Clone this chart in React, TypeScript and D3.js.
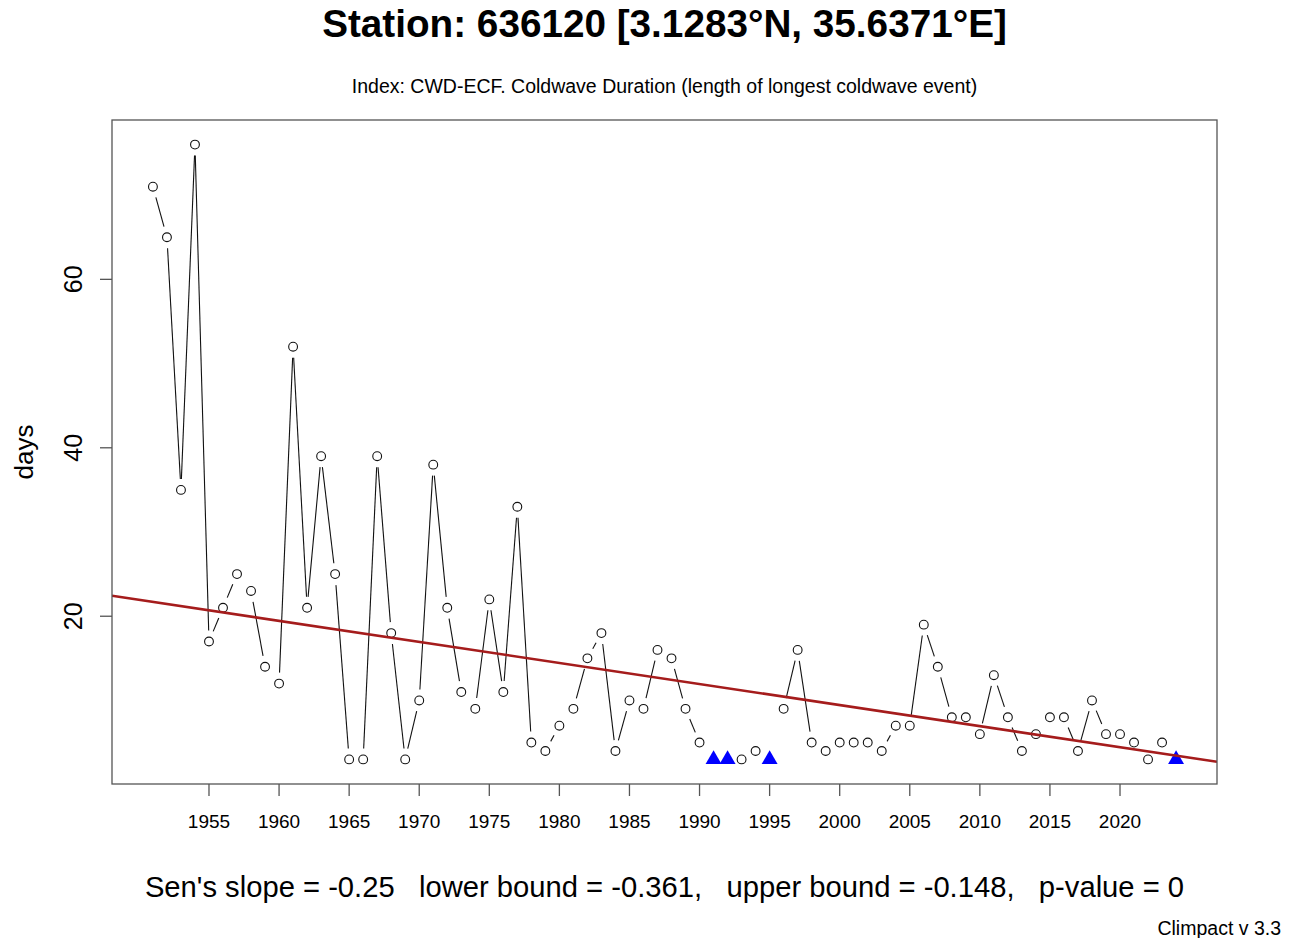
import React from "react";
import * as d3 from "d3";

// CWD-ECF series, station 636120 (null = missing year, drawn as blue triangle)
const years = d3.range(1951, 2025);
const cwd: (number | null)[] = [
  71, 65, 35, 76, 17, 21, 25, 23, 14, 12,
  52, 21, 39, 25, 3, 3, 39, 18, 3, 10,
  38, 21, 11, 9, 22, 11, 33, 5, 4, 7,
  9, 15, 18, 4, 10, 9, 16, 15, 9, 5,
  null, null, 3, 4, null, 9, 16, 5, 4, 5,
  5, 5, 4, 7, 7, 19, 14, 8, 8, 6,
  13, 8, 4, 6, 8, 8, 4, 10, 6, 6,
  5, 3, 5, null,
];
const xTicks = [1955, 1960, 1965, 1970, 1975, 1980, 1985, 1990, 1995, 2000, 2005, 2010, 2015, 2020];
const yTicks = [20, 40, 60];

// Sen's slope trend line
const senSlope = -0.25;
const trendAt1951 = 21.7;

const titleText = "Station: 636120 [3.1283\u00b0N, 35.6371\u00b0E]";
const subtitleText = "Index: CWD-ECF. Coldwave Duration (length of longest coldwave event)";
const statsText = "Sen's slope = -0.25   lower bound = -0.361,   upper bound = -0.148,   p-value = 0";
const versionText = "Climpact v 3.3";

const W = 1304, H = 938;
const plot = { left: 112, right: 1217, top: 120, bottom: 784 };
const font = "'Liberation Sans', Arial, Helvetica, sans-serif";

export default function App() {
  const valid = cwd.filter((v) => v != null) as number[];
  const yMin = d3.min(valid)!, yMax = d3.max(valid)!;
  const [x0, x1] = d3.extent(years) as [number, number];
  const xPad = (x1 - x0) * 0.04, yPad = (yMax - yMin) * 0.04;

  const x = d3.scaleLinear().domain([x0 - xPad, x1 + xPad]).range([plot.left, plot.right]);
  const y = d3.scaleLinear().domain([yMin - yPad, yMax + yPad]).range([plot.bottom, plot.top]);

  // type="b" style segments: gap round each point
  const gap = 11;
  const segs: { x1: number; y1: number; x2: number; y2: number }[] = [];
  for (let i = 0; i < years.length - 1; i++) {
    const a = cwd[i], b = cwd[i + 1];
    if (a == null || b == null) continue;
    const px1 = x(years[i]), py1 = y(a), px2 = x(years[i + 1]), py2 = y(b);
    const d = Math.hypot(px2 - px1, py2 - py1);
    if (d <= 2 * gap) continue;
    const ux = (px2 - px1) / d, uy = (py2 - py1) / d;
    segs.push({ x1: px1 + ux * gap, y1: py1 + uy * gap, x2: px2 - ux * gap, y2: py2 - uy * gap });
  }

  const tri = d3.symbol(d3.symbolTriangle).size(110)()!;
  const [dx0, dx1] = x.domain();
  const trend = (yr: number) => trendAt1951 + senSlope * (yr - 1951);
  const cx = (plot.left + plot.right) / 2;

  return (
    <svg width={W} height={H} style={{ position: "absolute", left: 0, top: 0, background: "#fff" }} fontFamily={font}>
      <defs>
        <clipPath id="plotclip">
          <rect x={plot.left} y={plot.top} width={plot.right - plot.left} height={plot.bottom - plot.top} />
        </clipPath>
      </defs>

      <text x={cx} y={37} textAnchor="middle" fontSize={38.7} fontWeight="bold" fill="#000">{titleText}</text>
      <text x={cx} y={93} textAnchor="middle" fontSize={19.5} fill="#000">{subtitleText}</text>

      {/* data lines */}
      <g stroke="#111" strokeWidth={1.1}>
        {segs.map((s, i) => (
          <line key={i} x1={s.x1} y1={s.y1} x2={s.x2} y2={s.y2} />
        ))}
      </g>
      <g fill="none" stroke="#111" strokeWidth={1.1}>
        {years.map((yr, i) =>
          cwd[i] != null ? <circle key={yr} cx={x(yr)} cy={y(cwd[i] as number)} r={4.4} /> : null
        )}
      </g>
      <g fill="#0000ff">
        {years.map((yr, i) =>
          cwd[i] == null ? <path key={yr} d={tri} transform={`translate(${x(yr)},${y(yMin)})`} /> : null
        )}
      </g>

      {/* trend */}
      <line clipPath="url(#plotclip)" x1={x(dx0)} y1={y(trend(dx0))} x2={x(dx1)} y2={y(trend(dx1))}
        stroke="#a51c1c" strokeWidth={2.6} />

      {/* box */}
      <rect x={plot.left} y={plot.top} width={plot.right - plot.left} height={plot.bottom - plot.top}
        fill="none" stroke="#555" strokeWidth={1.3} />

      {/* x axis */}
      <g stroke="#555" strokeWidth={1.3}>
        {xTicks.map((t) => (
          <line key={t} x1={x(t)} x2={x(t)} y1={plot.bottom} y2={plot.bottom + 12} />
        ))}
      </g>
      <g fontSize={19} textAnchor="middle" fill="#000">
        {xTicks.map((t) => (
          <text key={t} x={x(t)} y={828}>{t}</text>
        ))}
      </g>

      {/* y axis */}
      <g stroke="#555" strokeWidth={1.3}>
        {yTicks.map((t) => (
          <line key={t} x1={plot.left - 12} x2={plot.left} y1={y(t)} y2={y(t)} />
        ))}
      </g>
      <g fontSize={25} textAnchor="middle" fill="#000">
        {yTicks.map((t) => (
          <text key={t} transform={`translate(82,${y(t)}) rotate(-90)`}>{t}</text>
        ))}
      </g>
      <text transform={`translate(33,${(plot.top + plot.bottom) / 2}) rotate(-90)`} textAnchor="middle" fontSize={26} fill="#000">days</text>

      <text x={cx} y={897} textAnchor="middle" fontSize={29.2} fill="#000" style={{ whiteSpace: "pre" }}>{statsText}</text>
      <text x={1281} y={935} textAnchor="end" fontSize={19.5} fill="#000">{versionText}</text>
    </svg>
  );
}
